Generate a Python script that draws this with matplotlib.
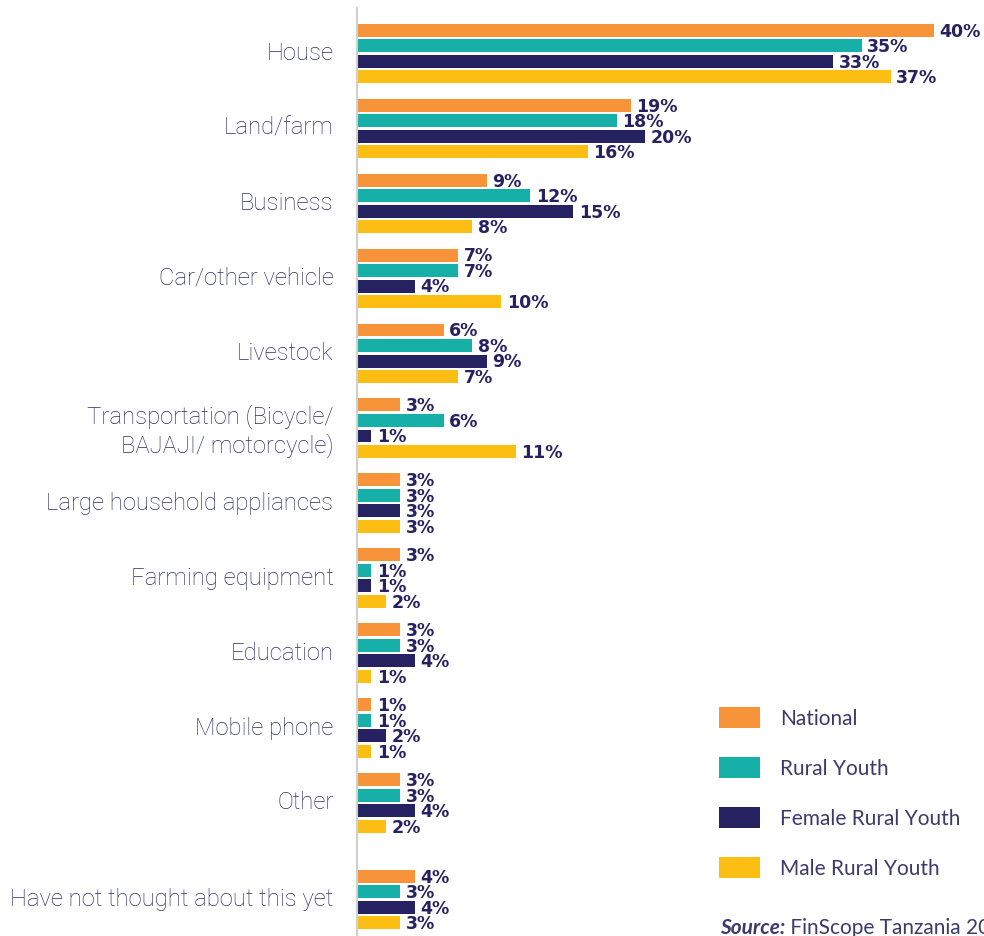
import matplotlib
matplotlib.use("Agg")
import matplotlib.pyplot as plt
import matplotlib.transforms as mtransforms
import numpy as np
from matplotlib.patches import Patch

# Planned use of savings / investment (%)
categories = [
    "House",
    "Land/farm",
    "Business",
    "Car/other vehicle",
    "Livestock",
    "Transportation (Bicycle/\nBAJAJI/ motorcycle)",
    "Large household appliances",
    "Farming equipment",
    "Education",
    "Mobile phone",
    "Other",
    "Have not thought about this yet",
]
series_names = ["National", "Rural Youth", "Female Rural Youth", "Male Rural Youth"]
national = [40, 19, 9, 7, 6, 3, 3, 3, 3, 1, 3, 4]
rural_youth = [35, 18, 12, 7, 8, 6, 3, 1, 3, 1, 3, 3]
female_rural_youth = [33, 20, 15, 4, 9, 1, 3, 1, 4, 2, 4, 4]
male_rural_youth = [37, 16, 8, 10, 7, 11, 3, 2, 1, 1, 2, 3]

series = [national, rural_youth, female_rural_youth, male_rural_youth]
colors = ["#F7943A", "#17B0A8", "#262262", "#FDBE14"]

CAT_FONT = ["Roboto", "DejaVu Sans"]
VAL_FONT = ["DejaVu Sans"]
TEXT = ["Lato", "DejaVu Sans"]
label_color = "#2e2d64"
legend_color = "#3b3a6c"
value_color = "#262262"

W, H = 984, 936
fig = plt.figure(figsize=(W / 100, H / 100), dpi=100)
fig.patch.set_facecolor("white")

ax = fig.add_axes([357 / W, 0, 1 - 357 / W, 1 - 8 / H])

# group positions; the last group sits a little further down
ypos = np.arange(len(categories), dtype=float)
ypos[-1] += 0.29

pitch = 0.207
bar_h = 0.173
offsets = (np.arange(len(series)) - 1.5) * pitch

for vals, off, col, name in zip(series, offsets, colors, series_names):
    yy = ypos + off
    ax.barh(yy, vals, height=bar_h, color=col, label=name, edgecolor="none")
    for v, y in zip(vals, yy):
        ax.annotate(f"{v}%", xy=(v, y), xytext=(4, -1), textcoords="offset points",
                    ha="left", va="center", fontsize=12.5, fontweight="bold",
                    color=value_color, family=VAL_FONT)

ax.set_xlim(0, (W - 357) / 14.42)
ax.set_ylim(11.775, -0.607)

ax.set_yticks(ypos)
ax.set_yticklabels(categories, family=CAT_FONT, fontweight="light", fontsize=17.2,
                   color=label_color, linespacing=1.25)
ax.tick_params(axis="y", length=0, pad=17)
ax.set_xticks([])
# nudge category labels slightly upward
lift = mtransforms.ScaledTranslation(0, 2.5 / 100, fig.dpi_scale_trans)
for lbl in ax.get_yticklabels():
    lbl.set_transform(lbl.get_transform() + lift)

for s in ["top", "right", "bottom"]:
    ax.spines[s].set_visible(False)
ax.spines["left"].set_color("#d0d0d0")
ax.spines["left"].set_linewidth(1.5)

handles = [Patch(facecolor=c, edgecolor="none", label=n) for c, n in zip(colors, series_names)]
fig.legend(handles=handles, loc="upper left", bbox_to_anchor=(719 / W, 1 - 707 / H),
           frameon=False, borderpad=0, borderaxespad=0,
           prop={"family": TEXT, "size": 15},
           labelcolor=legend_color, handlelength=1.97, handleheight=1.2,
           handletextpad=0.98, labelspacing=1.36)

src = fig.text(720 / W, 2 / H, "Source:", family=TEXT, fontsize=15,
               fontstyle="italic", fontweight="bold", color=legend_color,
               ha="left", va="baseline")
ax.annotate(" FinScope Tanzania 2023", xy=(1, 0), xycoords=src, ha="left",
            va="bottom", family=TEXT, fontsize=15, color=legend_color,
            annotation_clip=False)

fig.savefig("out.png", dpi=100, facecolor="white")
